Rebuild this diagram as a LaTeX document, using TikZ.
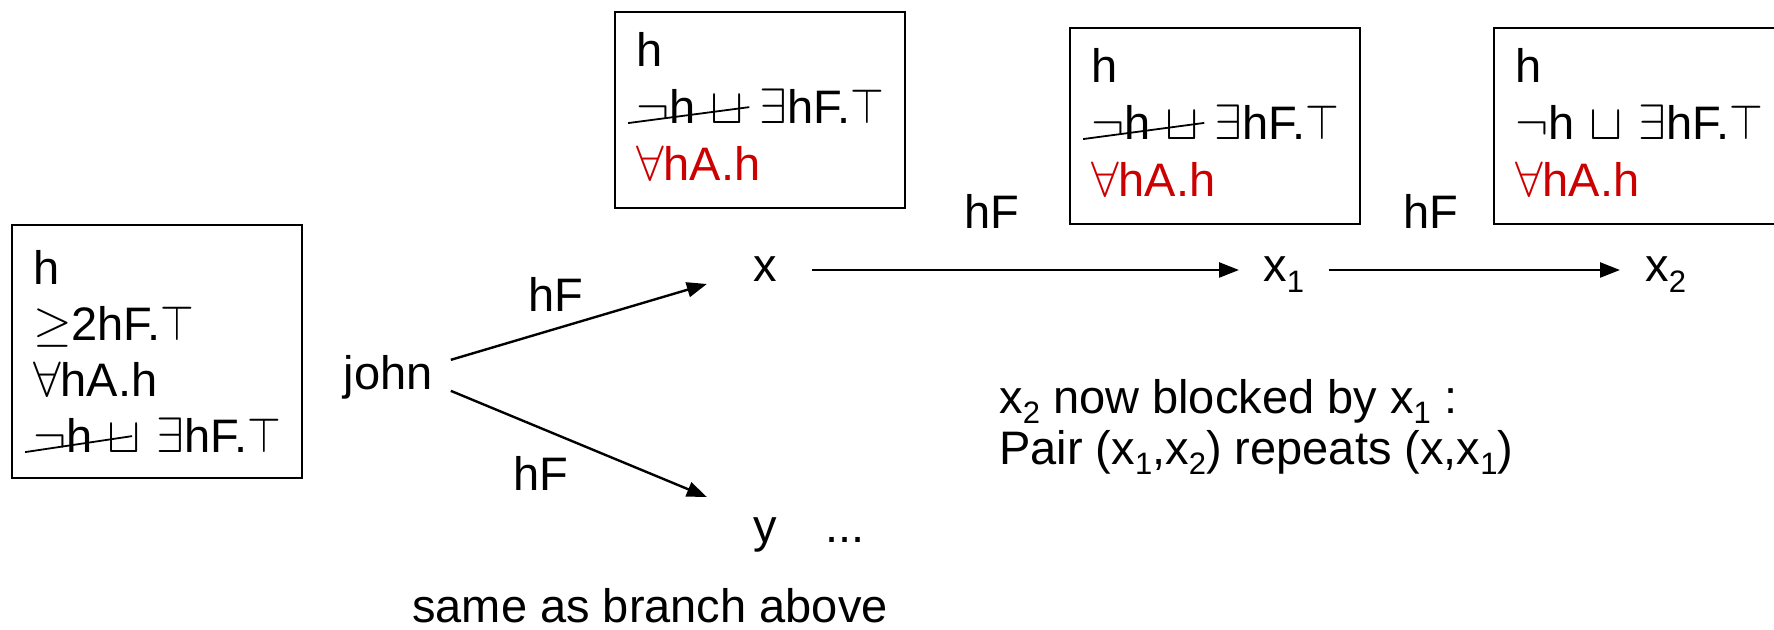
\documentclass[tikz,border=0pt]{standalone}
\usepackage{fontspec}
\setmainfont{Liberation Sans}
\usepackage{graphicx}
\usetikzlibrary{arrows.meta,calc}
\definecolor{dlred}{RGB}{204,0,0}
\newcommand\lsub[1]{\raisebox{-0.22em}{\fontsize{15.5pt}{16pt}\selectfont #1}}
\newcommand\strk[3]{\mbox{\rlap{\kern-0.17em\raisebox{-0.02em}{\rotatebox{#2}{\rule{#1}{0.9pt}}}}#3}}
\newcommand\dltop{\scalebox{0.87}[1]{$\top$}}
\newcommand\dldown{\rule[-4pt]{0pt}{4pt}}
\begin{document}
\begin{tikzpicture}[x=0.5pt,y=-0.5pt,
  every node/.style={inner sep=0pt, font=\fontsize{23.5pt}{28pt}\selectfont},
  box/.style={draw, line width=1pt, align=left, anchor=north west, inner xsep=10.5pt,
    minimum width=145pt, text width=124pt},
  arr/.style={-{Triangle[length=10pt,width=7.5pt]}, line width=1.2pt},
  xnode/.style={text height=12pt, text depth=0pt},
  lbl/.style={anchor=base}]
\useasboundingbox (0,0) rectangle (1774,630);

% concept boxes
\node[box, minimum height=126.5pt] (b1) at (11,224)
  {h\\ $\geq$2hF.\dltop\\ $\forall$hA.h\\ \mbox{\strk{2.3em}{8.5}{$\neg$h $\sqcup$} $\exists$hF.\dltop}};
\node[box, minimum height=98pt, font=\fontsize{23.5pt}{28.5pt}\selectfont] (b2) at (614,11)
  {h\\ \mbox{\strk{2.6em}{7.5}{$\neg$h $\sqcup$} $\exists$hF.\dltop}\\ \textcolor{dlred}{$\forall$hA.h}\dldown};
\node[box, minimum height=98pt, font=\fontsize{23.5pt}{28.5pt}\selectfont] (b3) at (1069,27)
  {h\\ \mbox{\strk{2.6em}{7.6}{$\neg$h $\sqcup$} $\exists$hF.\dltop}\\ \textcolor{dlred}{$\forall$hA.h}\dldown};
\node[box, minimum height=98pt, font=\fontsize{23.5pt}{28.5pt}\selectfont] (b4) at (1493,27)
  {h\\ \mbox{$\neg$h $\sqcup$ $\exists$hF.\dltop}\\ \textcolor{dlred}{$\forall$hA.h}\dldown};

% individuals
\node[anchor=base] (john) at (388,390) {john};
\node[xnode, anchor=base] (x) at (765,282) {x};
\node[xnode, anchor=base west] (x1) at (1263,282) {x\lsub{1}};
\node[xnode, anchor=base west] (x2) at (1645,282) {x\lsub{2}};
\node[xnode, anchor=base] (y) at (765,543) {y};
\node[anchor=base] (dots) at (845,543) {...};
\node[anchor=base] (same) at (650,623) {same as branch above};
\node[anchor=north west, align=left, font=\fontsize{23.5pt}{25.5pt}\selectfont] (note) at (999,379)
  {x\lsub{2} now blocked by x\lsub{1} :\\Pair (x\lsub{1},x\lsub{2}) repeats (x,x\lsub{1})};

% edges
\draw[arr] ($(john.east)+(18,-18)$) -- node[lbl, pos=0.41, yshift=8.5pt]{hF} ($(x.west)+(-46,14)$);
\draw[arr] ($(john.east)+(18,13)$) -- node[lbl, pos=0.35, yshift=-31pt]{hF} ($(y.west)+(-46,-34)$);
\draw[arr] ($(x.east)+(35,0)$) -- node[lbl, pos=0.42, yshift=20.5pt]{hF} ($(x1.west)+(-24,0)$);
\draw[arr] ($(x1.east)+(24,0)$) -- node[lbl, pos=0.35, yshift=20.5pt]{hF} ($(x2.west)+(-25,0)$);
\end{tikzpicture}
\end{document}
